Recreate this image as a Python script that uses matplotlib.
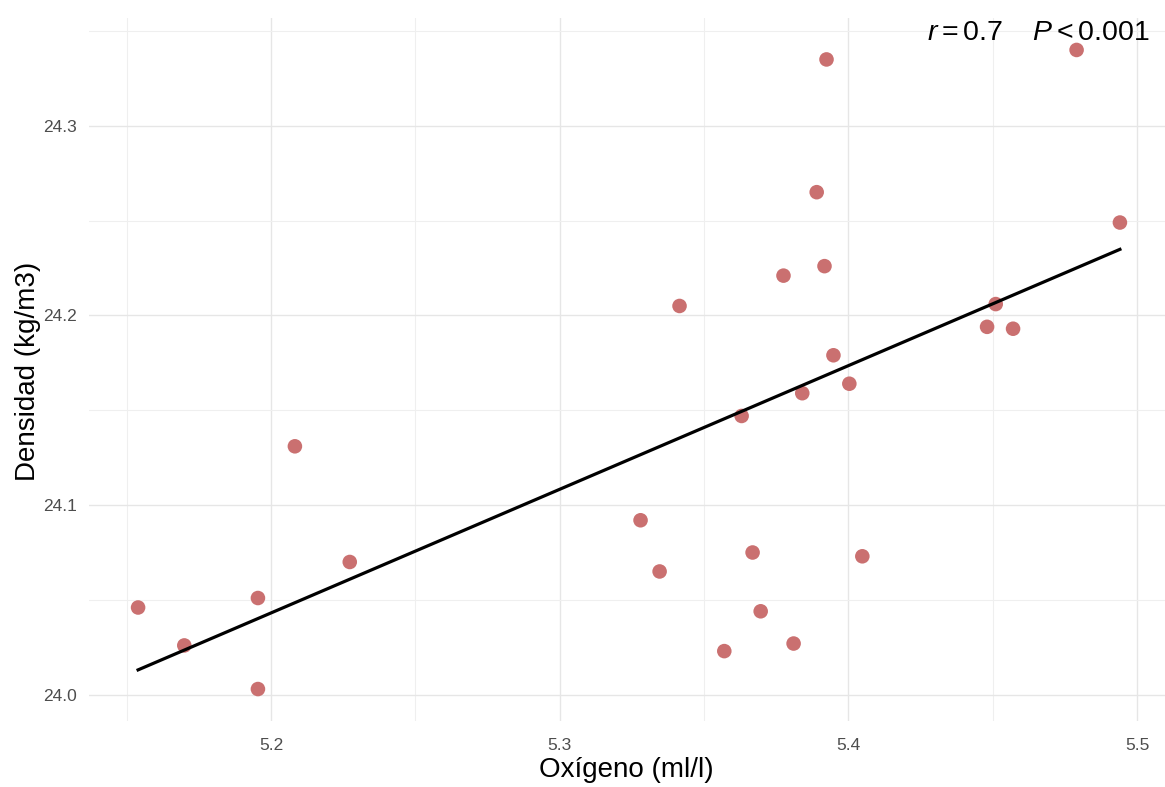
import numpy as np
import matplotlib
matplotlib.use("Agg")
import matplotlib.pyplot as plt
from matplotlib.ticker import FixedLocator

# Data
oxigeno = [5.154, 5.170, 5.1955, 5.1955, 5.2083, 5.2273, 5.328, 5.3346, 5.3415,
           5.357, 5.363, 5.3668, 5.3696, 5.3775, 5.381, 5.384, 5.389, 5.3917,
           5.3924, 5.3948, 5.4003, 5.4048, 5.448, 5.451, 5.457, 5.494, 5.479]
densidad = [24.046, 24.026, 24.051, 24.003, 24.131, 24.070, 24.092, 24.065, 24.205,
            24.023, 24.147, 24.075, 24.044, 24.221, 24.027, 24.159, 24.265, 24.226,
            24.335, 24.179, 24.164, 24.073, 24.194, 24.206, 24.193, 24.249, 24.340]
x_major = [5.2, 5.3, 5.4, 5.5]
x_minor = [5.15, 5.25, 5.35, 5.45]
y_major = [24.0, 24.1, 24.2, 24.3]
y_minor = [24.05, 24.15, 24.25, 24.35]
annot = r"$r = 0.7\quad\;P < 0.001$"

plt.rcParams['font.family'] = ['Liberation Sans', 'DejaVu Sans']
plt.rcParams['mathtext.fontset'] = 'custom'
plt.rcParams['mathtext.rm'] = 'Liberation Sans'
plt.rcParams['mathtext.it'] = 'Liberation Sans:italic'

fig = plt.figure(figsize=(11.65, 7.87), dpi=100)
L, R, B, T = 89, 1169, 66, 769
ax = fig.add_axes([L/1165, B/787, (R-L)/1165, (T-B)/787])

x = np.array(oxigeno)
y = np.array(densidad)
b, a = np.polyfit(x, y, 1)
xs = np.linspace(x.min(), x.max(), 100)

ax.scatter(x, y, s=110, color='#CA7070', edgecolors='none', zorder=3)
ax.plot(xs, a + b * xs, color='black', lw=2.3, zorder=4)

xr = x.max() - x.min()
yr = y.max() - y.min()
ax.set_xlim(x.min() - 0.05 * xr, x.max() + 0.05 * xr)
ax.set_ylim(y.min() - 0.05 * yr, y.max() + 0.05 * yr)

ax.xaxis.set_major_locator(FixedLocator(x_major))
ax.xaxis.set_minor_locator(FixedLocator(x_minor))
ax.yaxis.set_major_locator(FixedLocator(y_major))
ax.yaxis.set_minor_locator(FixedLocator(y_minor))
ax.set_xticklabels([f"{v:.1f}" for v in x_major])
ax.set_yticklabels([f"{v:.1f}" for v in y_major])

ax.grid(which='major', color='#E6E6E6', lw=1.0, zorder=0)
ax.grid(which='minor', color='#EFEFEF', lw=0.8, zorder=0)
ax.set_axisbelow(True)
for s in ax.spines.values():
    s.set_visible(False)
ax.tick_params(which='both', length=0)
ax.tick_params(axis='x', labelsize=12.5, labelcolor='#4D4D4D', pad=12)
ax.tick_params(axis='y', labelsize=12.5, labelcolor='#4D4D4D', pad=9)

ax.set_xlabel("Oxígeno (ml/l)", fontsize=20, color='black', va='center')
ax.set_ylabel("Densidad (kg/m3)", fontsize=20, color='black', va='center')
W, H = R - L, T - B
ax.xaxis.set_label_coords((626 - L) / W, (787 - 770 - B) / H)
ax.yaxis.set_label_coords((28 - L) / W, (787 - 371 - B) / H)

ax.text((1150 - L) / W, 0.978, annot, transform=ax.transAxes, ha='right',
        va='center', fontsize=20.5, color='black')

fig.savefig("out.png", dpi=100)
